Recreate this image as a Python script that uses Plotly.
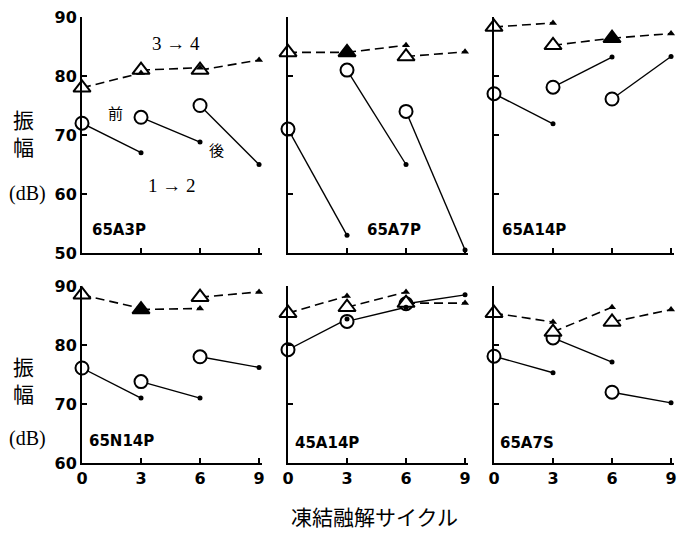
import plotly.graph_objects as go

W, H = 686, 533

# ---------------- data ----------------
specimens = ["65A3P", "65A7P", "65A14P", "65N14P", "45A14P", "65A7S"]
cycle_start = [0, 3, 6]
cycle_end = [3, 6, 9]
x_ticks = [0, 3, 6, 9]
y_ticks_top = [50, 60, 70, 80, 90]
y_ticks_bottom = [60, 70, 80, 90]

# test 1 -> 2 (solid): amplitude before / after each freeze-thaw interval
amp12_before_65A3P = [72.0, 73.0, 75.0]
amp12_after_65A3P = [67.0, 68.8, 65.0]
amp12_before_65A7P = [71.0, 81.0, 74.0]
amp12_after_65A7P = [53.0, 65.0, 50.5]
amp12_before_65A14P = [77.0, 78.1, 76.1]
amp12_after_65A14P = [71.9, 83.2, 83.3]
amp12_before_65N14P = [76.1, 73.8, 78.0]
amp12_after_65N14P = [71.0, 71.0, 76.2]
amp12_before_45A14P = [79.2, 84.0, 87.0]
amp12_after_45A14P = [84.4, 86.4, 88.5]
amp12_before_65A7S = [78.1, 81.2, 72.0]
amp12_after_65A7S = [75.3, 77.1, 70.2]

# test 3 -> 4 (dashed)
amp34_before_65A3P = [78.0, 81.0, 81.0]
amp34_after_65A3P = [80.5, 81.4, 82.7]
amp34_before_65A7P = [84.0, 84.0, 83.3]
amp34_after_65A7P = [84.0, 85.2, 84.1]
amp34_before_65A14P = [88.3, 85.2, 86.4]
amp34_after_65A14P = [89.0, 86.4, 87.2]
amp34_before_65N14P = [88.5, 86.0, 88.1]
amp34_after_65N14P = [86.2, 86.2, 89.0]
amp34_before_45A14P = [85.4, 86.4, 87.1]
amp34_after_45A14P = [88.3, 89.0, 87.1]
amp34_before_65A7S = [85.4, 82.2, 83.9]
amp34_after_65A7S = [83.9, 86.4, 86.0]

panel_data = [
    (amp12_before_65A3P, amp12_after_65A3P, amp34_before_65A3P, amp34_after_65A3P),
    (amp12_before_65A7P, amp12_after_65A7P, amp34_before_65A7P, amp34_after_65A7P),
    (amp12_before_65A14P, amp12_after_65A14P, amp34_before_65A14P, amp34_after_65A14P),
    (amp12_before_65N14P, amp12_after_65N14P, amp34_before_65N14P, amp34_after_65N14P),
    (amp12_before_45A14P, amp12_after_45A14P, amp34_before_45A14P, amp34_after_45A14P),
    (amp12_before_65A7S, amp12_after_65A7S, amp34_before_65A7S, amp34_after_65A7S),
]

# style: start triangles that print as solid (overlapping end marks)
solid_start_triangle = [
    [False, False, False],
    [False, True, False],
    [False, False, True],
    [False, True, False],
    [False, False, False],
    [False, False, False],
]

# ---------------- layout geometry (pixels) ----------------
col_left = [82, 288, 494]
col_width = 180
x_range = [0, 9.15]
rows = [(17, 253, [50, 90], y_ticks_top), (286, 463, [60, 90], y_ticks_bottom)]

fig = go.Figure()
layout = dict(
    width=W, height=H,
    margin=dict(l=0, r=0, t=0, b=0, pad=0),
    paper_bgcolor="white", plot_bgcolor="white",
    showlegend=False,
)

tickfont = dict(family="DejaVu Sans", size=16, color="black", weight="bold")

for p in range(6):
    r, c = divmod(p, 3)
    top, bot, yr, yt = rows[r]
    n = p + 1
    xk = "xaxis" if n == 1 else f"xaxis{n}"
    yk = "yaxis" if n == 1 else f"yaxis{n}"
    xa = "x" if n == 1 else f"x{n}"
    ya = "y" if n == 1 else f"y{n}"
    layout[xk] = dict(
        domain=[col_left[c] / W, (col_left[c] + col_width) / W],
        range=x_range, anchor=ya, automargin=False,
        showline=True, linewidth=2, linecolor="black",
        showgrid=False, zeroline=False,
        ticks="inside", ticklen=5, tickwidth=2, tickcolor="black",
        tickvals=x_ticks, ticktext=[str(v) for v in x_ticks],
        showticklabels=(r == 1), tickfont=tickfont,
    )
    layout[yk] = dict(
        domain=[1 - bot / H, 1 - top / H],
        range=yr, anchor=xa, automargin=False,
        showline=True, linewidth=2, linecolor="black",
        showgrid=False, zeroline=False,
        ticks="inside", ticklen=5, tickwidth=2, tickcolor="black",
        tickvals=yt, ticktext=[str(v) for v in yt],
        showticklabels=(c == 0), tickfont=tickfont,
    )

    b12, a12, b34, a34 = panel_data[p]
    common = dict(xaxis=xa, yaxis=ya, cliponaxis=False, hoverinfo="skip")
    # lines
    for i in range(3):
        fig.add_trace(go.Scatter(
            x=[cycle_start[i], cycle_end[i]], y=[b34[i], a34[i]], mode="lines",
            line=dict(color="black", width=1.6, dash="9px,5px"), **common))
        fig.add_trace(go.Scatter(
            x=[cycle_start[i], cycle_end[i]], y=[b12[i], a12[i]], mode="lines",
            line=dict(color="black", width=1.4), **common))
    # start markers
    fig.add_trace(go.Scatter(
        x=cycle_start, y=b12, mode="markers",
        marker=dict(symbol="circle", size=13, color="white",
                    line=dict(color="black", width=2)), **common))
    fig.add_trace(go.Scatter(
        x=cycle_start, y=b34, mode="markers",
        marker=dict(symbol="triangle-up", size=15,
                    color=["black" if f else "white" for f in solid_start_triangle[p]],
                    line=dict(color="black", width=2)), **common))
    # end markers
    fig.add_trace(go.Scatter(
        x=cycle_end, y=a12, mode="markers",
        marker=dict(symbol="circle", size=5, color="black"), **common))
    fig.add_trace(go.Scatter(
        x=cycle_end, y=a34, mode="markers",
        marker=dict(symbol="triangle-up", size=7, color="black"), **common))


def px(x, y, text, size, family, anchor="center", weight="normal"):
    return dict(x=x / W, y=1 - y / H, xref="paper", yref="paper", text=text,
                showarrow=False, xanchor=anchor, yanchor="middle",
                font=dict(size=size, family=family, color="black", weight=weight))


jp = "Noto Sans CJK JP"
serif = "Liberation Serif"
lab = "DejaVu Sans"
ann = [
    px(23, 133, "振<br>幅", 21, jp), px(27, 193, "(dB)", 20, serif),
    px(23, 379, "振<br>幅", 21, jp), px(27, 438, "(dB)", 20, serif),
    px(176, 43, "3 → 4", 19, serif),
    px(115, 113, "前", 15, jp),
    px(216, 150, "後", 15, jp),
    px(172, 185, "1 → 2", 19, serif),
    px(90, 230, specimens[0], 15, lab, "left", "bold"),
    px(365, 230, specimens[1], 15, lab, "left", "bold"),
    px(500, 230, specimens[2], 15, lab, "left", "bold"),
    px(87, 441, specimens[3], 15, lab, "left", "bold"),
    px(293, 443, specimens[4], 15, lab, "left", "bold"),
    px(498, 443, specimens[5], 15, lab, "left", "bold"),
    px(374, 516, "凍結融解サイクル", 21, jp),
]
layout["annotations"] = ann
fig.update_layout(**layout)
fig.write_html(
    "out.html",
    config={"displayModeBar": False},
    post_script="document.body.style.margin='0';document.body.style.overflow='hidden';",
)
